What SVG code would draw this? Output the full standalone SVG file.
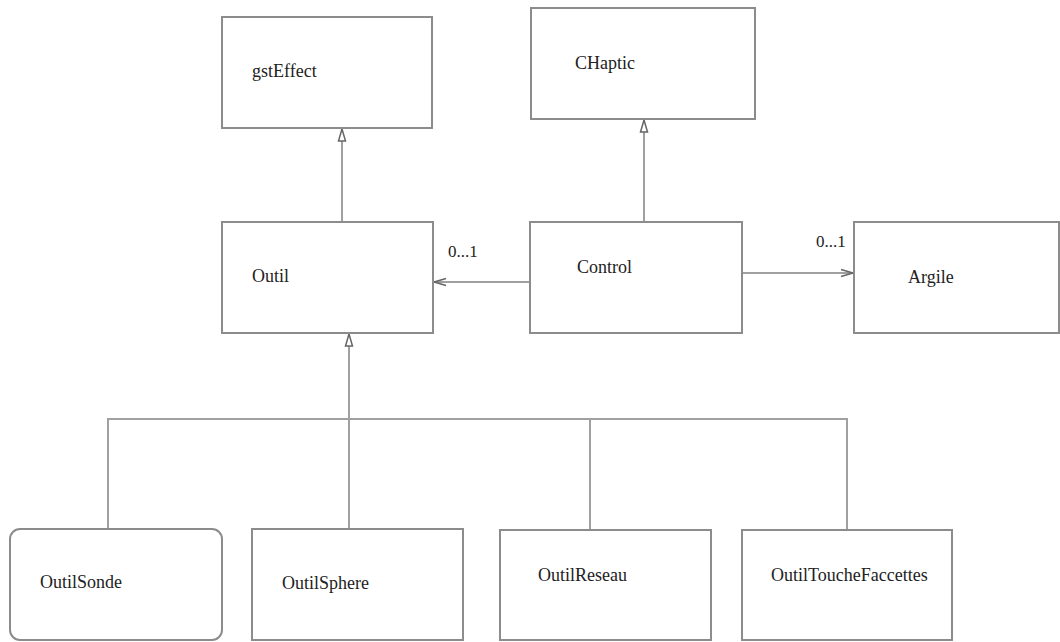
<svg xmlns="http://www.w3.org/2000/svg" width="1060" height="642" viewBox="0 0 1060 642">
<style>
.box{fill:#fff;stroke:#8c8c8c;stroke-width:2}
.lbl{font-family:"Liberation Serif","Times New Roman",serif;font-size:18px;fill:#222}
.mult{font-family:"Liberation Serif","Times New Roman",serif;font-size:17px;fill:#222}
.conn{fill:none;stroke:#a0a0a0;stroke-width:2}
</style>
<defs>
<marker id="gen" viewBox="0 0 14 10" refX="13" refY="5" markerWidth="14" markerHeight="10" markerUnits="userSpaceOnUse" orient="auto">
<path d="M13,5 L1,1.5 L1,8.5 Z" fill="#fff" stroke="#666" stroke-width="1.5"/>
</marker>
<marker id="nav" viewBox="0 0 14 10" refX="13" refY="5" markerWidth="14" markerHeight="10" markerUnits="userSpaceOnUse" orient="auto">
<path d="M1,1.5 L13,5 L1,8.5" fill="none" stroke="#666" stroke-width="1.5"/>
</marker>
</defs>
<rect width="1060" height="642" fill="#fff"/>
<g id="connectors">
<line class="conn" x1="342" y1="222" x2="342" y2="129" marker-end="url(#gen)"/>
<line class="conn" x1="644" y1="222" x2="644" y2="120" marker-end="url(#gen)"/>
<line class="conn" x1="530" y1="282" x2="434" y2="282" marker-end="url(#nav)"/>
<line class="conn" x1="742" y1="273" x2="853" y2="273" marker-end="url(#nav)"/>
<line class="conn" x1="349" y1="529" x2="349" y2="334" marker-end="url(#gen)"/>
<polyline class="conn" points="108,529 108,419 847,419 847,529"/>
<line class="conn" x1="590" y1="419" x2="590" y2="529"/>
<text class="mult" x="448" y="257">0...1</text>
<text class="mult" x="816" y="247">0...1</text>
</g>
<g id="gstEffect"><rect class="box" x="222" y="17" width="210" height="111"/><text class="lbl" x="252" y="77">gstEffect</text></g>
<g id="CHaptic"><rect class="box" x="531" y="8" width="224" height="111"/><text class="lbl" x="575" y="69">CHaptic</text></g>
<g id="Outil"><rect class="box" x="222" y="222" width="211" height="111"/><text class="lbl" x="252" y="282">Outil</text></g>
<g id="Control"><rect class="box" x="530" y="222" width="212" height="111"/><text class="lbl" x="577" y="273">Control</text></g>
<g id="Argile"><rect class="box" x="854" y="222" width="205" height="111"/><text class="lbl" x="908" y="283">Argile</text></g>
<g id="OutilSonde"><rect class="box" x="10" y="529" width="212" height="111" rx="10" ry="10"/><text class="lbl" x="40" y="588">OutilSonde</text></g>
<g id="OutilSphere"><rect class="box" x="252" y="529" width="211" height="111"/><text class="lbl" x="282" y="589">OutilSphere</text></g>
<g id="OutilReseau"><rect class="box" x="500" y="530" width="211" height="110"/><text class="lbl" x="538" y="581">OutilReseau</text></g>
<g id="OutilToucheFaccettes"><rect class="box" x="742" y="530" width="210" height="110"/><text class="lbl" x="771" y="581">OutilToucheFaccettes</text></g>
</svg>
